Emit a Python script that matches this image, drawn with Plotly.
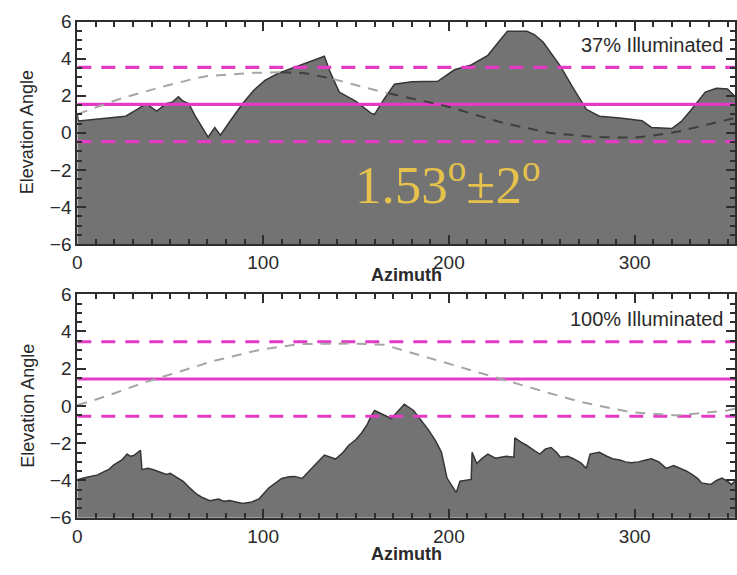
import numpy as np
import plotly.graph_objects as go
from plotly.subplots import make_subplots

# Axis extents
AZ_MAX = 354
EL_MIN, EL_MAX = -6, 6

# Horizon profile, upper panel (azimuth deg, elevation deg)
TOP_AZ = [0, 0.5, 2, 10, 26, 32, 37, 42.7, 48, 51, 54.4, 57, 60, 63.5, 67, 70.4,
          74, 77, 82, 89, 95, 101, 108, 116, 125, 133, 136, 139, 141, 150, 158,
          160, 165, 170.7, 180, 194, 203, 212, 221, 226, 231.5, 242, 246, 250.7,
          255, 260, 267, 274, 281, 292, 304, 309, 320, 325, 330.7, 338, 344, 350, 354]
TOP_EL = [1.05, 0.65, 0.65, 0.72, 0.9, 1.25, 1.58, 1.17, 1.58, 1.65, 1.95, 1.7,
          1.58, 0.9, 0.3, -0.23, 0.29, -0.13, 0.6, 1.58, 2.3, 2.83, 3.2, 3.5, 3.85,
          4.13, 3.3, 2.62, 2.2, 1.7, 1.06, 1.0, 1.8, 2.62, 2.75, 2.78, 3.4, 3.66,
          4.18, 4.8, 5.48, 5.48, 5.3, 4.9, 4.3, 3.6, 2.4, 1.27, 0.9, 0.8, 0.65,
          0.29, 0.23, 0.6, 1.27, 2.2, 2.4, 2.36, 1.95]

# Sun path, upper panel
TOP_SUN_AZ = [0, 5, 20, 41, 68, 90, 105, 121, 139, 153, 171, 194, 224, 251, 277,
              295, 304, 322, 340, 354]
TOP_SUN_EL = [1.0, 1.17, 1.75, 2.36, 3.05, 3.22, 3.27, 3.25, 2.88, 2.47, 2.05,
              1.58, 0.65, 0.03, -0.23, -0.28, -0.23, 0.03, 0.49, 0.8]

# Horizon profile, lower panel
BOT_AZ = [0, 0.5, 4, 7.5, 11, 14.4, 17, 19.7, 22, 24, 26.8, 28.5, 30.4, 32.5, 34,
          34.8, 38, 41, 44, 48, 50, 53, 55, 57, 60, 64, 67, 71.3, 76, 79, 82, 86,
          89, 94, 98, 103, 107, 110, 114, 117, 121, 125, 128, 133, 136, 139, 143,
          146, 150, 153, 156, 158, 160, 164, 169, 172, 176, 181, 185, 189, 193,
          196, 199, 202, 204, 206, 209, 212, 212.5, 215, 218, 221, 225, 228, 231,
          235, 235.5, 239, 242, 246, 249, 252, 255, 258, 260, 264, 267, 271, 274,
          276, 281, 285, 288, 292, 295, 298, 302, 306, 309, 313, 317, 321, 325,
          328, 331, 334, 336, 339, 341, 344, 347, 350, 352, 354]
BOT_EL = [-3.95, -3.95, -3.85, -3.78, -3.7, -3.52, -3.4, -3.16, -3.0, -2.9, -2.58,
          -2.7, -2.66, -2.5, -2.38, -3.42, -3.35, -3.42, -3.55, -3.68, -3.62, -3.8,
          -3.9, -4.04, -4.35, -4.72, -4.9, -5.08, -5.0, -5.12, -5.08, -5.15, -5.23,
          -5.15, -4.97, -4.4, -4.1, -3.89, -3.8, -3.78, -3.89, -3.5, -3.16, -2.64,
          -2.75, -2.85, -2.5, -2.12, -1.8, -1.45, -1.0, -0.57, -0.24, -0.45, -0.67,
          -0.35, 0.1, -0.24, -0.75, -1.28, -1.9, -2.49, -3.87, -4.3, -4.65, -4.04,
          -4.0, -3.94, -2.49, -3.09, -2.8, -2.58, -2.8, -2.75, -2.7, -2.75, -1.71,
          -1.95, -2.12, -2.4, -2.58, -2.3, -2.23, -2.5, -2.75, -2.7, -2.83, -3.05,
          -3.35, -2.58, -2.49, -2.7, -2.83, -2.9, -3.0, -3.05, -3.0, -2.9, -2.83,
          -3.0, -3.35, -3.2, -3.35, -3.5, -3.68, -3.9, -4.13, -4.2, -4.21, -4.0,
          -3.87, -4.05, -4.21, -4.04]

# Sun path, lower panel
BOT_SUN_AZ = [0, 2, 14.4, 32, 50, 68, 94, 117, 139, 164, 189, 215, 242, 269, 295,
              322, 349, 354]
BOT_SUN_EL = [0.05, 0.1, 0.47, 1.14, 1.66, 2.28, 2.95, 3.32, 3.37, 3.32, 2.59,
              1.81, 1.04, 0.26, -0.31, -0.52, -0.26, -0.15]

# Illumination band: centre +/- half width
BAND_CENTER = [1.53, 1.45]
BAND_HALF = 2.0
PANEL_LABELS = ["37% Illuminated", "100% Illuminated"]
BAND_TEXT = "1.53<sup>o</sup>±2<sup>o</sup>"

W, H = 737, 575
X_DOMAIN = [73 / W, 1.0]
Y_DOMAINS = [[(H - 243) / H, (H - 12) / H], [(H - 527) / H, (H - 295) / H]]

FILL = "#737373"
EDGE = "#363636"
MAGENTA = "#e23cc6"
SUN_LIGHT = "#a6a6a6"
SUN_DARK = "#3e3e3e"
AXIS = "#2e2e2e"
TXT = "#2a2a2a"
FONT = "Liberation Sans"

fig = make_subplots(rows=2, cols=1, vertical_spacing=0.09)


def split_sun(sun_az, sun_el, ter_az, ter_el):
    """Separate the sun path into the part above and below the horizon.

    Gaps are returned as None so each part is drawn as separate segments.
    """
    az = np.arange(sun_az[0], sun_az[-1] + 0.01, 0.25)
    s = np.interp(az, sun_az, sun_el)
    t = np.interp(az, ter_az, ter_el)
    below = s < t
    up = [None if b else float(v) for v, b in zip(s, below)]
    down = [float(v) if b else None for v, b in zip(s, below)]
    return [float(a) for a in az], up, down


panels = [
    (TOP_AZ, TOP_EL, TOP_SUN_AZ, TOP_SUN_EL),
    (BOT_AZ, BOT_EL, BOT_SUN_AZ, BOT_SUN_EL),
]

for i, (taz, tel, saz, sel) in enumerate(panels):
    row = i + 1
    # baseline for the terrain fill
    fig.add_trace(go.Scatter(x=taz, y=[EL_MIN] * len(taz), mode="lines",
                             line=dict(color=FILL, width=0.5), hoverinfo="skip",
                             showlegend=False), row=row, col=1)
    fig.add_trace(go.Scatter(x=taz, y=tel, mode="lines", fill="tonexty",
                             fillcolor=FILL, line=dict(color=EDGE, width=1.5),
                             showlegend=False), row=row, col=1)
    c = BAND_CENTER[i]
    for level, dash in [(c, "solid"), (c + BAND_HALF, "14px,10px"),
                        (c - BAND_HALF, "14px,10px")]:
        fig.add_trace(go.Scatter(x=[0, AZ_MAX], y=[level, level], mode="lines",
                                 line=dict(color=MAGENTA, width=3.2, dash=dash),
                                 showlegend=False), row=row, col=1)
    az, up, down = split_sun(saz, sel, taz, tel)
    for ys, colour in [(up, SUN_LIGHT), (down, SUN_DARK)]:
        if any(v is not None for v in ys):
            fig.add_trace(go.Scatter(x=az, y=ys, mode="lines", connectgaps=False,
                                     line=dict(color=colour, width=2,
                                               dash="10px,8px"),
                                     showlegend=False), row=row, col=1)

fig.update_xaxes(range=[0, AZ_MAX], domain=X_DOMAIN, tickvals=[0, 100, 200, 300],
                 ticks="inside", ticklen=9, tickwidth=2, tickcolor=AXIS,
                 minor=dict(dtick=10, ticks="inside", ticklen=5, tickwidth=1.5,
                            tickcolor=AXIS, showgrid=False),
                 showline=True, linecolor=AXIS, linewidth=2, mirror="ticks",
                 showgrid=False, zeroline=False, layer="above traces",
                 tickfont=dict(family=FONT, size=19, color=TXT))
fig.update_yaxes(range=[EL_MIN, EL_MAX], dtick=2,
                 ticks="inside", ticklen=9, tickwidth=2, tickcolor=AXIS,
                 minor=dict(dtick=0.5, ticks="inside", ticklen=5, tickwidth=1.5,
                            tickcolor=AXIS, showgrid=False),
                 showline=True, linecolor=AXIS, linewidth=2, mirror="ticks",
                 showgrid=False, zeroline=False, layer="above traces",
                 tickfont=dict(family=FONT, size=19, color=TXT))
fig.update_yaxes(domain=Y_DOMAINS[0], row=1, col=1)
fig.update_yaxes(domain=Y_DOMAINS[1], row=2, col=1)

fig.update_layout(width=W, height=H, margin=dict(l=0, r=0, t=0, b=0),
                  paper_bgcolor="white", plot_bgcolor="white", showlegend=False)

ann = []
label_y = [36, 321]
title_y = [275, 565]
ylab_y = [127, 411]
for i in range(2):
    ann.append(dict(text=PANEL_LABELS[i], xref="paper", yref="paper",
                    x=727 / W, y=1 - label_y[i] / H, xanchor="right",
                    yanchor="middle", showarrow=False,
                    font=dict(family=FONT, size=20, color=TXT)))
    ann.append(dict(text="<b>Azimuth</b>", xref="paper", yref="paper",
                    x=405 / W, y=1 - title_y[i] / H, xanchor="center",
                    yanchor="middle", showarrow=False,
                    font=dict(family=FONT, size=18, color=TXT)))
    ann.append(dict(text="Elevation Angle", xref="paper", yref="paper",
                    x=23 / W, y=1 - ylab_y[i] / H, xanchor="center",
                    yanchor="middle", textangle=-90, showarrow=False,
                    font=dict(family=FONT, size=18, color=TXT)))
ann.append(dict(text=BAND_TEXT, xref="paper", yref="paper",
                x=447 / W, y=1 - 177 / H, xanchor="center", yanchor="middle",
                showarrow=False,
                font=dict(family="Liberation Serif", size=53, color="#e6c24c")))
fig.update_layout(annotations=ann)

fig.write_html("out.html")
